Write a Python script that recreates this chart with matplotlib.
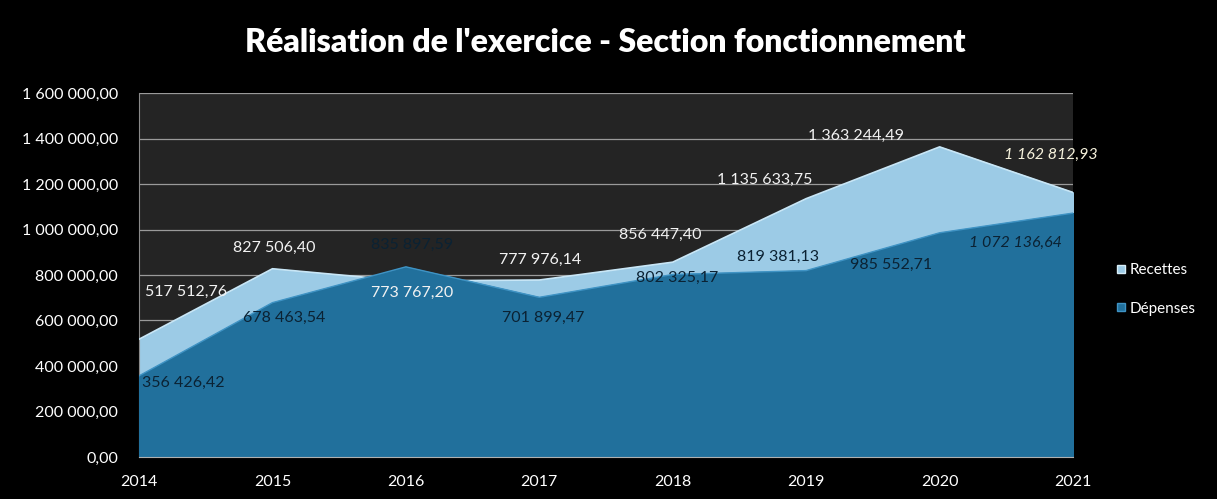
import matplotlib.pyplot as plt
from matplotlib.ticker import FuncFormatter
from matplotlib.lines import Line2D


years = [2014, 2015, 2016, 2017, 2018, 2019, 2020, 2021]
recettes = [517512.76, 827506.40, 773767.20, 777976.14, 856447.40,
            1135633.75, 1363244.49, 1162812.93]
depenses = [356426.42, 678463.54, 835897.59, 701899.47, 802325.17,
            819381.13, 985552.71, 1072136.64]

# positions des étiquettes (coordonnées des données), comme dans Excel
lab_rec_x = [2014.35, 2015.01, 2016.05, 2017.01, 2017.91, 2018.69, 2019.37, 2020.83]
lab_rec_y = [725000, 919000, 721000, 866000, 976000, 1218000, 1411000, 1328000]
lab_dep_x = [2014.33, 2015.09, 2016.05, 2017.03, 2018.03, 2018.79, 2019.64, 2020.57]
lab_dep_y = [325000, 611000, 932000, 611000, 787000, 879000, 844000, 941000]

FONT = ["Lato", "DejaVu Sans"]
COL_REC = "#9ccbe6"
COL_DEP = "#21709c"


def fr_format(v, decimals=2):
    s = f"{v:,.{decimals}f}"
    return s.replace(",", " ").replace(".", ",")


def plot_chart():
    fig = plt.figure(figsize=(12.17, 4.99), dpi=100, facecolor="black")
    ax = fig.add_axes([0.1142, 0.0842, 0.7675, 0.7294])
    ax.set_facecolor("#242424")

    ax.fill_between(years, recettes, 0, color=COL_REC, zorder=2)
    ax.plot(years, recettes, color="#c8e6f6", linewidth=1.2, zorder=3)
    ax.fill_between(years, depenses, 0, color=COL_DEP, zorder=4)
    ax.plot(years, depenses, color="#3f93c4", linewidth=1.0, zorder=5)

    for i in range(len(years)):
        last = i == len(years) - 1
        ax.text(
            lab_rec_x[i], lab_rec_y[i], fr_format(recettes[i]),
            ha="center", va="center", fontsize=11.5, family=FONT,
            color="#f6f2dc" if last else "#f2f2f2",
            style="italic" if last else "normal",
            zorder=6, clip_on=False
        )
        ax.text(
            lab_dep_x[i], lab_dep_y[i], fr_format(depenses[i]),
            ha="center", va="center", fontsize=11.5, family=FONT,
            color="#0b2233",
            style="italic" if last else "normal",
            zorder=6, clip_on=False
        )

    ax.set_xlim(2014, 2021)
    ax.set_ylim(0, 1600000)
    ax.set_xticks(years)
    ax.set_xticklabels([str(y) for y in years])
    ax.set_yticks(range(0, 1600001, 200000))
    ax.yaxis.set_major_formatter(FuncFormatter(lambda v, p: fr_format(v)))

    ax.grid(axis="y", color="#9a9a9a", linewidth=0.9, zorder=1)
    ax.set_axisbelow(True)
    for side in ["top", "right"]:
        ax.spines[side].set_visible(False)
    ax.spines["left"].set_color("#8a8a8a")
    ax.spines["bottom"].set_color("#b0b0b0")
    ax.spines["bottom"].set_zorder(7)
    ax.tick_params(axis="both", length=0, colors="white", labelsize=11.5)
    ax.tick_params(axis="x", pad=13)
    ax.tick_params(axis="y", pad=15)
    for lab in ax.get_xticklabels() + ax.get_yticklabels():
        lab.set_family(FONT)

    fig.text(
        0.497, 0.914, "Réalisation de l'exercice - Section fonctionnement",
        ha="center", va="center", fontsize=23, fontweight="heavy",
        color="white", family=FONT
    )

    handles = [
        Line2D([], [], marker="s", linestyle="none", markersize=6,
               markerfacecolor=COL_REC, markeredgecolor="#d8eef8"),
        Line2D([], [], marker="s", linestyle="none", markersize=6,
               markerfacecolor=COL_DEP, markeredgecolor="#3f93c4"),
    ]
    leg = fig.legend(
        handles, ["Recettes", "Dépenses"],
        loc="center left", bbox_to_anchor=(0.906, 0.42),
        frameon=False, handlelength=0.6, handletextpad=0.3,
        labelspacing=1.6, prop={"family": FONT, "size": 11}
    )
    for t in leg.get_texts():
        t.set_color("white")

    fig.savefig("out.png", dpi=100, facecolor="black")
    plt.close(fig)


if __name__ == "__main__":
    plot_chart()
